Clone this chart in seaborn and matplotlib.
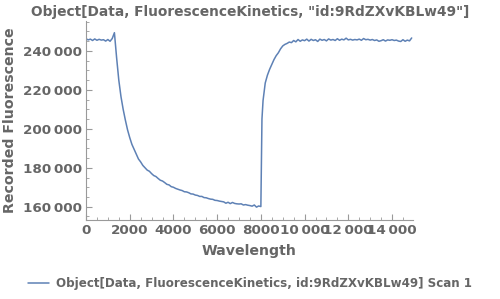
import numpy as np
import pandas as pd
import matplotlib
matplotlib.use("Agg")
import matplotlib.pyplot as plt
import seaborn as sns
from matplotlib.ticker import FuncFormatter, MultipleLocator

title = 'Object[Data, FluorescenceKinetics, "id:9RdZXvKBLw49"]'
series_label = "Object[Data, FluorescenceKinetics, id:9RdZXvKBLw49] Scan 1"
x_label = "Wavelength"
y_label = "Recorded Fluorescence"

wavelength = np.r_[np.arange(0, 8001, 100), 8050, np.arange(8100, 14901, 100)]

fluor_before = [
    246200, 245600, 246000, 245300, 246100, 245400, 245900, 245500, 245700, 245000,
    245800, 244900, 246300, 249300, 236500, 225000, 216500, 210000, 204500, 199500,
    195500, 192000, 189500, 187000, 184500, 183000, 181200, 180000, 178800, 178200,
    177000, 176000, 175500, 174500, 173600, 173200, 172400, 171500, 171200, 170300,
    170000, 169400, 169000, 168600, 168300, 167700, 167600, 167200, 166600, 166500,
    166000, 165800, 165300, 165300, 164700, 164600, 164200, 163900, 163800, 163300,
    163200, 162900, 162700, 162500, 161800, 162300, 161600, 162200, 161700, 161500,
    161400, 161500, 160900, 161100, 160800, 160600, 160300, 160900, 159800, 160400,
    160100,
]
fluor_after = [
    205000,
    214500, 223500, 227500, 230500, 233000, 235500, 237500, 239000, 241000, 242500,
    243300, 243800, 244500, 244200, 245300, 244600, 245800, 244900, 245600, 245200,
    246000, 245000, 245900, 245300, 245700, 244800, 246000, 245400, 245800, 245100,
    246100, 245500, 245800, 245300, 246200, 245400, 246000, 245600, 246500, 245600,
    245900, 245500, 245800, 245600, 246000, 245400, 246300, 245700, 245900, 245500,
    245800, 245300, 245600, 244900, 245200, 245700, 245000, 245600, 245400, 245700,
    245300, 245500, 245000, 244800, 245700, 244900, 245500, 245100, 246600,
]
fluorescence = fluor_before + fluor_after

df = pd.DataFrame({"Wavelength": wavelength, "Fluorescence": fluorescence})

sns.set_style("ticks")
plt.rcParams["font.family"] = ["DejaVu Sans"]

text_color = "#666666"
axis_color = "#9a9a9a"
line_color = "#5E81B5"

fig = plt.figure(figsize=(5.0, 2.99), dpi=100)
ax = fig.add_axes([86 / 500, 1 - 220 / 299, (413 - 86) / 500, (220 - 21) / 299])

sns.lineplot(data=df, x="Wavelength", y="Fluorescence", ax=ax, color=line_color,
             linewidth=1.1, label=series_label, legend=False)

ax.set_xlim(0, 14960)
ax.set_ylim(153200, 255300)

def fmt(v, pos):
    v = int(round(v))
    if abs(v) >= 10000:
        return f"{v:,}".replace(",", "\u2009")
    return str(v)

ax.xaxis.set_major_locator(MultipleLocator(2000))
ax.xaxis.set_minor_locator(MultipleLocator(500))
ax.yaxis.set_major_locator(MultipleLocator(20000))
ax.yaxis.set_minor_locator(MultipleLocator(5000))
ax.xaxis.set_major_formatter(FuncFormatter(fmt))
ax.yaxis.set_major_formatter(FuncFormatter(fmt))

ax.tick_params(axis="both", which="major", direction="in", length=4, width=0.8,
               color=axis_color, labelsize=9.7, labelcolor=text_color, pad=3)
ax.tick_params(axis="both", which="minor", direction="in", length=2, width=0.6,
               color=axis_color)
for lab in ax.get_xticklabels() + ax.get_yticklabels():
    lab.set_fontweight("bold")

for s in ["top", "right"]:
    ax.spines[s].set_visible(False)
for s in ["left", "bottom"]:
    ax.spines[s].set_color(axis_color)
    ax.spines[s].set_linewidth(0.8)

ax.set_xlabel(x_label, fontsize=10.2, fontweight="bold", color=text_color, labelpad=5)
ax.set_ylabel(y_label, fontsize=10.2, fontweight="bold", color=text_color, labelpad=4)
fig.text(0.5, 1 - 12 / 299, title, ha="center", va="center", fontsize=9.9,
         fontweight="bold", color=text_color)

from matplotlib.lines import Line2D
handles = [Line2D([], [], color=line_color, linewidth=1.1)]
labels = [series_label]
leg = fig.legend(handles, labels, loc="center", bbox_to_anchor=(0.5, 1 - 284 / 299),
                 frameon=False, fontsize=8.6, handlelength=1.8, handletextpad=0.6)
for t in leg.get_texts():
    t.set_color(text_color)
    t.set_fontweight("bold")

fig.savefig("out.png", dpi=100)
